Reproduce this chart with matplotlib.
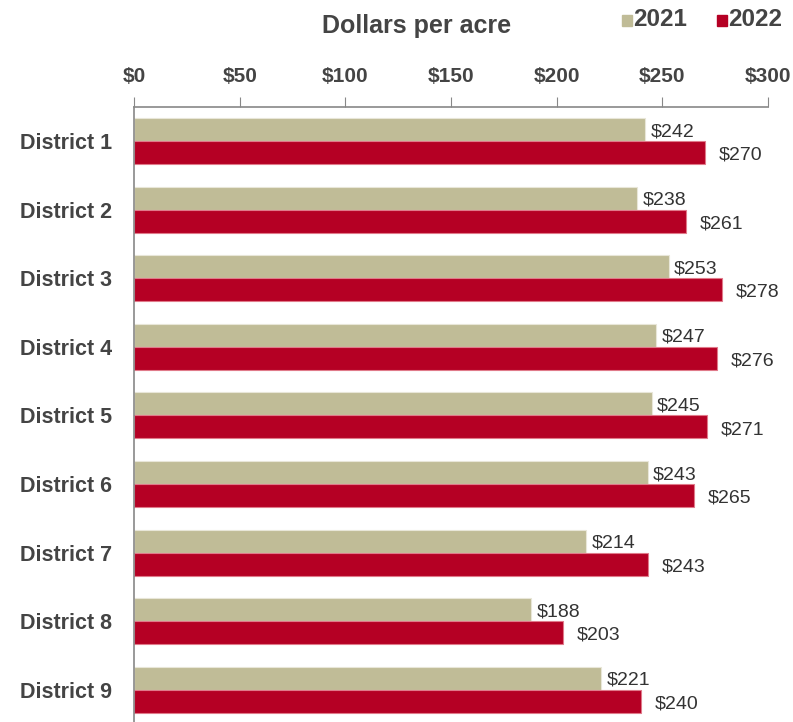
import matplotlib
matplotlib.use("Agg")
import matplotlib.pyplot as plt
import numpy as np
from matplotlib.patches import Rectangle

districts = ["District 1", "District 2", "District 3", "District 4", "District 5",
             "District 6", "District 7", "District 8", "District 9"]
vals_2021 = [242, 238, 253, 247, 245, 243, 214, 188, 221]
vals_2022 = [270, 261, 278, 276, 271, 265, 243, 203, 240]
xticks = [0, 50, 100, 150, 200, 250, 300]
xtick_labels = ["$0", "$50", "$100", "$150", "$200", "$250", "$300"]

bold_font = "Liberation Sans"
val_font = "Liberation Sans"

c21 = "#C0BC97"
c22 = "#B50024"
txt = "#444444"
gray = "#888888"

fig = plt.figure(figsize=(7.93, 7.22), dpi=100)
ax = fig.add_axes([134/793, 0.0, (768-134)/793, 1 - 107/722])

y = np.arange(len(districts))
h = 0.335
ax.barh(y - h/2, vals_2021, height=h, color=c21, edgecolor="#e8e6d8", linewidth=0.8)
ax.barh(y + h/2, vals_2022, height=h, color=c22, edgecolor="#e07a8a", linewidth=0.8)

for yi, v in zip(y, vals_2021):
    ax.text(v + 2.5, yi - h/2 + 0.03, f"${v}", va="center", ha="left",
            fontsize=14, color="#333333", family=val_font)
for yi, v in zip(y, vals_2022):
    ax.text(v + 6.5, yi + h/2 + 0.04, f"${v}", va="center", ha="left",
            fontsize=14, color="#333333", family=val_font)

ax.set_xlim(0, 300)
ax.set_ylim(8.47, -0.496)
ax.xaxis.tick_top()
ax.set_xticks(xticks)
ax.set_xticklabels(xtick_labels, fontsize=15, fontweight="bold", color=txt, family=bold_font)
ax.tick_params(axis="x", direction="out", length=7, color=gray, pad=8)
ax.set_yticks(y)
ax.set_yticklabels(districts, fontsize=15.5, fontweight="bold", color=txt, family=bold_font)
ax.tick_params(axis="y", length=0, pad=16)

for s in ["right", "bottom"]:
    ax.spines[s].set_visible(False)
ax.spines["top"].set_color(gray)
ax.spines["left"].set_color(gray)
ax.spines["top"].set_linewidth(1.2)
ax.spines["left"].set_linewidth(1.2)

fig.text(417/793, 1 - 26/722, "Dollars per acre", ha="center", va="center",
         fontsize=18, fontweight="bold", color=txt, family=bold_font)

for x0, col, lab in [(622, c21, "2021"), (717, c22, "2022")]:
    fig.patches.append(Rectangle((x0/793, 1 - 26/722), 10/793, 11/722,
                                 transform=fig.transFigure, color=col))
    fig.text((x0 + 11)/793, 1 - 20/722, lab, ha="left", va="center",
             fontsize=17.5, fontweight="bold", color=txt, family=bold_font)

fig.savefig("out.png", dpi=100)
